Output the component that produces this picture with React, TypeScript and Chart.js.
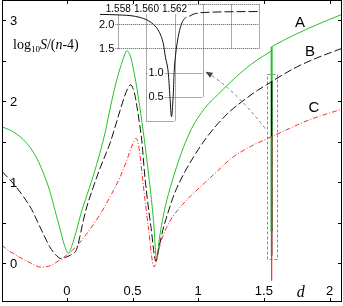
import React, { useEffect, useRef } from 'react';
import { Chart, registerables } from 'chart.js';
Chart.register(...registerables);

// ---- main curves (d, log10 S/(n-4)); a repeated d marks a step ----
const aD = [-0.493, -0.43, -0.356, -0.30, -0.255, -0.215, -0.179, -0.15, -0.128, -0.09, -0.05, -0.02, 0.011, 0.04, 0.07, 0.113, 0.17, 0.228, 0.29, 0.342, 0.38, 0.415, 0.44, 0.456, 0.472, 0.49, 0.506, 0.525, 0.544, 0.582, 0.628, 0.66, 0.684, 0.70, 0.72, 0.75, 0.8, 0.87, 0.95, 1.05, 1.15, 1.29, 1.40, 1.50, 1.559, 1.559, 1.65, 1.75, 1.90, 2.0944];
const aY = [1.68, 1.64, 1.56, 1.47, 1.37, 1.25, 1.11, 0.99, 0.88, 0.65, 0.41, 0.23, 0.12, 0.22, 0.38, 0.64, 0.92, 1.22, 1.60, 2.00, 2.26, 2.45, 2.57, 2.62, 2.60, 2.52, 2.40, 2.24, 2.05, 1.62, 1.02, 0.52, 0.04, 0.25, 0.46, 0.70, 1.00, 1.35, 1.66, 1.91, 2.08, 2.30, 2.45, 2.56, 2.62, 2.67, 2.75, 2.83, 2.94, 3.07];

const bD = [-0.493, -0.44, -0.381, -0.33, -0.267, -0.22, -0.179, -0.13, -0.09, -0.06, -0.039, -0.01, 0.03, 0.075, 0.10, 0.125, 0.15, 0.2, 0.253, 0.30, 0.329, 0.36, 0.405, 0.44, 0.465, 0.486, 0.505, 0.52, 0.532, 0.55, 0.57, 0.595, 0.64, 0.679, 0.70, 0.73, 0.77, 0.82, 0.9, 1.0, 1.064, 1.15, 1.24, 1.356, 1.45, 1.52, 1.559, 1.65, 1.75, 1.9, 2.0944];
const bY = [1.13, 1.04, 0.93, 0.82, 0.66, 0.50, 0.36, 0.20, 0.11, 0.065, 0.05, 0.07, 0.10, 0.17, 0.33, 0.52, 0.68, 0.93, 1.17, 1.36, 1.48, 1.64, 1.88, 2.06, 2.16, 2.20, 2.15, 2.06, 1.95, 1.76, 1.52, 1.05, 0.45, 0.02, 0.18, 0.40, 0.62, 0.86, 1.13, 1.40, 1.55, 1.72, 1.87, 2.02, 2.13, 2.20, 2.24, 2.33, 2.42, 2.53, 2.65];

const cD = [-0.493, -0.44, -0.38, -0.30, -0.25, -0.204, -0.15, -0.10, -0.05, 0.0, 0.075, 0.16, 0.253, 0.33, 0.405, 0.45, 0.49, 0.515, 0.527, 0.54, 0.557, 0.578, 0.62, 0.664, 0.69, 0.72, 0.76, 0.81, 0.88, 0.95, 1.05, 1.15, 1.25, 1.4, 1.559, 1.646, 1.85, 2.0944];
const cY = [0.22, 0.15, 0.09, 0.02, -0.02, -0.05, -0.045, -0.01, 0.04, 0.10, 0.21, 0.38, 0.60, 0.82, 1.06, 1.24, 1.42, 1.52, 1.54, 1.50, 1.33, 1.02, 0.45, -0.05, 0.10, 0.28, 0.44, 0.58, 0.72, 0.84, 0.99, 1.14, 1.29, 1.44, 1.56, 1.625, 1.77, 1.90];

// narrow dip of every curve at d = spikeD
const spikeD = 1.559;
const spikeDepth = [0.39, 0.09, -0.22]; // A, B, C

// ---- inset curve (zoom on the dip) ----
const insetD = [1.5567, 1.558, 1.5592, 1.56, 1.5605, 1.5609, 1.5612, 1.56135, 1.56155, 1.56167, 1.56178, 1.5619, 1.56197, 1.56213, 1.56248, 1.5631, 1.5641, 1.568];
const insetY = [2.21, 2.20, 2.17, 2.10, 2.00, 1.85, 1.60, 1.32, 1.00, 0.50, 0.08, 0.50, 1.00, 1.50, 2.00, 2.18, 2.25, 2.27];

// ---- ticks ----
const xTickVals = [0, 0.5, 1, 1.5, 2];
const xTickLabels = ['0', '0.5', '1', '1.5', '2'];
const yTickVals = [0, 1, 2, 3];
const yTickLabels = ['0', '1', '2', '3'];
const yMinorVals = [0.5, 1.5, 2.5];
const insetXTickVals = [1.558, 1.56, 1.562];
const insetXTickLabels = ['1.558', '1.560', '1.562'];
const insetYUpperVals = [2.0, 1.5];
const insetYUpperLabels = ['2.0', '1.5'];
const insetYLowerVals = [1.0, 0.5];
const insetYLowerLabels = ['1.0', '0.5'];

const curveNames = ['A', 'B', 'C'];

const toPts = (xs: number[], ys: number[]) => xs.map((x, i) => ({ x, y: ys[i] }));

// split a curve into runs with strictly increasing d
const runs = (xs: number[], ys: number[]) => {
  const out: { x: number; y: number }[][] = [];
  let cur: { x: number; y: number }[] = [];
  xs.forEach((x, i) => {
    if (cur.length && x <= cur[cur.length - 1].x) { out.push(cur); cur = []; }
    cur.push({ x, y: ys[i] });
  });
  if (cur.length) out.push(cur);
  return out;
};
const spikeTop = (xs: number[], ys: number[]) => {
  let top = -Infinity;
  xs.forEach((x, i) => { if (x === spikeD) top = Math.max(top, ys[i]); });
  return top;
};

const SANS = '"Liberation Sans", Arial, sans-serif';
const SERIF = '"Liberation Serif", "Times New Roman", serif';

const mainDecor = {
  id: 'mainDecor',
  beforeDatasetsDraw(chart: any) {
    const { ctx, scales: { x, y } } = chart;
    ctx.save();
    ctx.strokeStyle = '#8a8a8a';
    ctx.lineWidth = 1;
    ctx.setLineDash([3, 2]);
    const l = Math.round(x.getPixelForValue(1.521)) + 0.5;
    const r = Math.round(x.getPixelForValue(1.603)) + 0.5;
    const t = Math.round(y.getPixelForValue(2.33)) + 0.5;
    const b = Math.round(y.getPixelForValue(0.05)) + 0.5;
    ctx.strokeRect(l, t, r - l, b - t);
    const sx = x.getPixelForValue(1.51), sy = y.getPixelForValue(1.66);
    const cx = x.getPixelForValue(1.265), cy = y.getPixelForValue(2.17);
    const ex = x.getPixelForValue(1.055), ey = y.getPixelForValue(2.36);
    ctx.strokeStyle = '#777';
    ctx.setLineDash([3, 3]);
    ctx.beginPath();
    ctx.moveTo(sx, sy);
    ctx.quadraticCurveTo(cx, cy, ex, ey);
    ctx.stroke();
    ctx.setLineDash([]);
    const ang = Math.atan2(ey - cy, ex - cx);
    const L = 7, W = 3;
    ctx.fillStyle = '#444';
    ctx.beginPath();
    ctx.moveTo(ex, ey);
    ctx.lineTo(ex - L * Math.cos(ang) + W * Math.sin(ang), ey - L * Math.sin(ang) - W * Math.cos(ang));
    ctx.lineTo(ex - L * Math.cos(ang) - W * Math.sin(ang), ey - L * Math.sin(ang) + W * Math.cos(ang));
    ctx.closePath();
    ctx.fill();
    ctx.restore();
  },
  afterDraw(chart: any) {
    const { ctx, chartArea: a, scales: { x, y } } = chart;
    ctx.save();
    ctx.strokeStyle = '#000';
    ctx.lineWidth = 1;
    ctx.setLineDash([]);
    ctx.strokeRect(a.left + 0.5, a.top + 0.5, a.right - a.left - 1, a.bottom - a.top - 1);
    const T = 4;
    ctx.beginPath();
    xTickVals.forEach((v) => {
      const p = Math.round(x.getPixelForValue(v)) + 0.5;
      ctx.moveTo(p, a.bottom); ctx.lineTo(p, a.bottom - T);
      ctx.moveTo(p, a.top); ctx.lineTo(p, a.top + T);
    });
    [...yTickVals, ...yMinorVals].forEach((v) => {
      const p = Math.round(y.getPixelForValue(v)) + 0.5;
      ctx.moveTo(a.left, p); ctx.lineTo(a.left + T, p);
      ctx.moveTo(a.right, p); ctx.lineTo(a.right - T, p);
    });
    ctx.stroke();
    ctx.fillStyle = '#000';
    ctx.font = '13px ' + SANS;
    ctx.textBaseline = 'middle';
    ctx.textAlign = 'center';
    xTickVals.forEach((v, i) => {
      ctx.fillText(xTickLabels[i], x.getPixelForValue(v), a.bottom - 11);
    });
    ctx.textAlign = 'left';
    yTickVals.forEach((v, i) => {
      ctx.fillText(yTickLabels[i], a.left + 8, y.getPixelForValue(v) + 1);
    });
    const namePos = [[1.775, 2.96], [1.85, 2.61], [1.88, 1.91]];
    ctx.font = '15px ' + SANS;
    ctx.textAlign = 'center';
    curveNames.forEach((n, i) => {
      ctx.fillText(n, x.getPixelForValue(namePos[i][0]), y.getPixelForValue(namePos[i][1]));
    });
    ctx.textAlign = 'left';
    ctx.textBaseline = 'alphabetic';
    let xx = a.left + 11;
    const by = 49;
    const put = (s: string, font: string, dy = 0) => {
      ctx.font = font;
      ctx.fillText(s, xx, by + dy);
      xx += ctx.measureText(s).width;
    };
    put('log', '14px ' + SERIF);
    put('10', '9px ' + SERIF, 3);
    put('S', 'italic 14px ' + SERIF);
    put('/(', '14px ' + SERIF);
    put('n', 'italic 14px ' + SERIF);
    put('-4)', '14px ' + SERIF);
    ctx.font = 'italic 16px ' + SERIF;
    ctx.textAlign = 'center';
    ctx.fillText('d', x.getPixelForValue(1.78), a.bottom - 5);
    ctx.restore();
  },
};

const insetDecor = {
  id: 'insetDecor',
  beforeDatasetsDraw(chart: any) {
    const { ctx, scales: { x, y } } = chart;
    const hLines = [[2.427, 1.558, 1.568], [2.0, 1.5575, 1.568], [1.5, 1.5575, 1.568], [1.0, 1.56, 1.564], [0.5, 1.56, 1.564], [0, 1.56, 1.562]];
    const vLines = [[1.558, 1.5, 2.427], [1.56, 0, 2.427], [1.562, 0, 2.427], [1.564, 0.5, 2.427], [1.566, 1.5, 2.427], [1.568, 1.5, 2.427]];
    ctx.save();
    ctx.strokeStyle = '#555';
    ctx.lineWidth = 1;
    ctx.setLineDash([1, 1]);
    ctx.beginPath();
    hLines.forEach(([v, x0, x1]) => {
      const p = Math.round(y.getPixelForValue(v)) + 0.5;
      ctx.moveTo(x.getPixelForValue(x0), p); ctx.lineTo(x.getPixelForValue(x1), p);
    });
    vLines.forEach(([v, y0, y1]) => {
      const p = Math.round(x.getPixelForValue(v)) + 0.5;
      ctx.moveTo(p, y.getPixelForValue(y0)); ctx.lineTo(p, y.getPixelForValue(y1));
    });
    ctx.stroke();
    ctx.setLineDash([]);
    ctx.font = '10px ' + SANS;
    ctx.textBaseline = 'middle';
    const label = (s: string, px: number, py: number, align: string) => {
      ctx.textAlign = align;
      const w = ctx.measureText(s).width;
      const lx = align === 'center' ? px - w / 2 : align === 'right' ? px - w : px;
      ctx.fillStyle = '#fff';
      ctx.fillRect(lx - 1, py - 5, w + 2, 10);
      ctx.fillStyle = '#000';
      ctx.fillText(s, px, py);
    };
    insetXTickVals.forEach((v, i) => label(insetXTickLabels[i], x.getPixelForValue(v), y.getPixelForValue(2.32), 'center'));
    ctx.font = '11px ' + SANS;
    insetYUpperVals.forEach((v, i) => label(insetYUpperLabels[i], x.getPixelForValue(1.558) - 4, y.getPixelForValue(v), 'right'));
    insetYLowerVals.forEach((v, i) => label(insetYLowerLabels[i], x.getPixelForValue(1.56) + 2, y.getPixelForValue(v), 'left'));
    ctx.restore();
  },
};

export default function App() {
  const mainRef = useRef<HTMLCanvasElement>(null);
  const insetRef = useRef<HTMLCanvasElement>(null);
  useEffect(() => {
    const curves = [
      { xs: cD, ys: cY, color: '#ff2a2a', dash: [5, 2, 1, 2], depth: spikeDepth[2], sw: 1.2 },
      { xs: bD, ys: bY, color: '#111111', dash: [8, 3], depth: spikeDepth[1], sw: 1.5 },
      { xs: aD, ys: aY, color: '#22c322', dash: [], depth: spikeDepth[0], sw: 2 },
    ];
    const datasets: any[] = [];
    curves.forEach((c) => {
      runs(c.xs, c.ys).forEach((pts) => {
        datasets.push({
          data: pts, borderColor: c.color, borderDash: c.dash, borderWidth: 1,
          showLine: true, pointRadius: 0, fill: false, cubicInterpolationMode: 'monotone',
        });
      });
      datasets.push({
        data: [{ x: spikeD, y: spikeTop(c.xs, c.ys) }, { x: spikeD, y: c.depth }],
        borderColor: c.color, borderWidth: c.sw, showLine: true, pointRadius: 0, fill: false,
      });
    });
    const main = new Chart(mainRef.current!, {
      type: 'scatter',
      data: { datasets },
      options: {
        animation: false,
        responsive: false,
        events: [],
        layout: { padding: { left: 2, right: 1, top: 0, bottom: 4 } },
        plugins: { legend: { display: false }, tooltip: { enabled: false } },
        scales: {
          x: { type: 'linear', min: -0.4932, max: 2.0944, display: false },
          y: { type: 'linear', min: -0.4815, max: 3.247, display: false },
        },
      },
      plugins: [mainDecor],
    } as any);
    const inset = new Chart(insetRef.current!, {
      type: 'scatter',
      data: {
        datasets: [
          {
            data: toPts(insetD, insetY),
            borderColor: '#111',
            borderWidth: 1,
            borderDash: [],
            showLine: true,
            pointRadius: 0,
            fill: false,
            cubicInterpolationMode: 'monotone',
            segment: { borderDash: (c: any) => (c.p0.parsed.x >= 1.5622 ? [9, 3] : undefined) },
          },
        ] as any,
      },
      options: {
        animation: false,
        responsive: false,
        events: [],
        layout: { padding: { left: 100, right: 83, top: 0, bottom: 185 } },
        plugins: { legend: { display: false }, tooltip: { enabled: false } },
        scales: {
          x: { type: 'linear', min: 1.5567, max: 1.568071, display: false },
          y: { type: 'linear', min: -0.0104, max: 2.5104, display: false },
        },
      },
      plugins: [insetDecor],
    } as any);
    return () => { main.destroy(); inset.destroy(); };
  }, []);
  const cs: React.CSSProperties = { position: 'absolute', left: 0, top: 0, width: 343, height: 306, display: 'block' };
  return (
    <div style={{ position: 'fixed', left: 0, top: 0, width: 343, height: 306, background: '#fff' }}>
      <canvas ref={mainRef} width={343} height={306} style={cs} />
      <canvas ref={insetRef} width={343} height={306} style={{ ...cs, pointerEvents: 'none' }} />
    </div>
  );
}
